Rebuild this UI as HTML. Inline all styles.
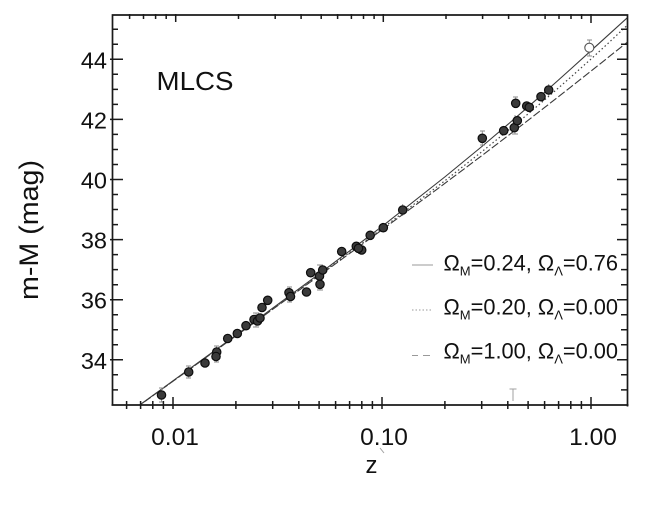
<!DOCTYPE html>
<html>
<head>
<meta charset="utf-8">
<style>
  html,body{margin:0;padding:0;background:#ffffff;}
  svg{display:block;}
  text{font-family:"Liberation Sans", Arial, Helvetica, sans-serif;fill:#111;}
</style>
</head>
<body>
<svg width="657" height="509" viewBox="0 0 657 509" xmlns="http://www.w3.org/2000/svg">
  <rect x="0" y="0" width="657" height="509" fill="#ffffff"/>
  <defs>
    <clipPath id="plotclip"><rect x="113" y="15" width="515" height="390"/></clipPath>
  </defs>

  <!-- model curves -->
  <g clip-path="url(#plotclip)" fill="none">
    <polyline stroke="#3a3a3a" stroke-width="1.1"
      points="110.08,426.28 140.63,404.26 173,380.86 235.92,335.18 319.08,273.97 382,226.40 444.92,176.88 481.72,146.62 507.83,124.48 528.08,106.92 544.63,92.34 558.63,79.88 570.75,69.00 591,50.70 607.55,35.68 627.8,17.33"/>
    <polyline stroke="#444" stroke-width="1.2" stroke-dasharray="1.5,2.5"
      points="110.08,426.40 140.63,404.43 173,381.10 235.92,335.66 319.08,275.10 382,228.56 444.92,180.73 481.72,151.80 507.83,130.68 528.08,113.90 544.63,99.88 558.63,87.80 570.75,77.17 591,59.02 607.55,43.82 627.8,24.79"/>
    <polyline stroke="#3a3a3a" stroke-width="1.1" stroke-dasharray="8,2.5"
      points="110.08,426.47 140.63,404.52 173,381.23 235.92,335.92 319.08,275.76 382,229.86 444.92,183.34 481.72,155.69 507.83,135.84 528.08,120.28 544.63,107.46 558.63,96.56 570.75,87.06 591,71.08 607.55,57.93 627.8,41.75"/>
  </g>

  <!-- error bars -->
  <g stroke="#8a8a8a" stroke-width="0.9" fill="none">
    <path d="M161.5,388v14M159,388h5M159,402h5"/>
    <path d="M188.7,366v12M186,366h5M186,378h5"/>
    <path d="M216.5,346v16M214,346h5M214,362h5"/>
    <path d="M256,313v14M253,313h6M253,327h6"/>
    <path d="M289.5,287v15M287,287h5M287,302h5"/>
    <path d="M320,265v25M317,265h6M317,290h6"/>
    <path d="M358.5,242v12"/>
    <path d="M402.7,204v12"/>
    <path d="M482.3,131v14M480,131h5M480,145h5"/>
    <path d="M515.7,97v10M513,97h5"/>
    <path d="M515,115v19M512,134h6"/>
    <path d="M548.7,84v12"/>
    <path d="M589.3,40v16M587,40h5M587,56h5"/>
  </g>

  <!-- data points -->
  <g fill="#3a3a3a" stroke="#0d0d0d" stroke-width="1.2">
    <circle cx="161.5" cy="395" r="4.2"/>
    <circle cx="188.7" cy="372" r="4.2"/>
    <circle cx="205" cy="363" r="4.2"/>
    <circle cx="216.7" cy="352" r="4.2"/>
    <circle cx="216" cy="356.5" r="4.2"/>
    <circle cx="227.7" cy="338.5" r="4.2"/>
    <circle cx="237.3" cy="333.5" r="4.2"/>
    <circle cx="246" cy="325.7" r="4.2"/>
    <circle cx="254" cy="319.5" r="4.2"/>
    <circle cx="257.5" cy="321" r="4.2"/>
    <circle cx="260" cy="318" r="4.2"/>
    <circle cx="262" cy="307.5" r="4.2"/>
    <circle cx="267.7" cy="300.3" r="4.2"/>
    <circle cx="289" cy="292.7" r="4.2"/>
    <circle cx="290.5" cy="296.5" r="4.2"/>
    <circle cx="306.5" cy="292" r="4.2"/>
    <circle cx="310.7" cy="272.7" r="4.2"/>
    <circle cx="320" cy="284.3" r="4.2"/>
    <circle cx="319.5" cy="276" r="4.2"/>
    <circle cx="322.7" cy="270" r="4.2"/>
    <circle cx="341.7" cy="251.5" r="4.2"/>
    <circle cx="356.3" cy="246.3" r="4.2"/>
    <circle cx="361.7" cy="250" r="4.2"/>
    <circle cx="358.5" cy="248.3" r="4.2"/>
    <circle cx="370.2" cy="235.3" r="4.2"/>
    <circle cx="383.3" cy="227.7" r="4.2"/>
    <circle cx="402.7" cy="210" r="4.2"/>
    <circle cx="482.3" cy="138.3" r="4.2"/>
    <circle cx="503.7" cy="130.7" r="4.2"/>
    <circle cx="514.3" cy="127.7" r="4.2"/>
    <circle cx="517.3" cy="120.7" r="4.2"/>
    <circle cx="515.7" cy="103.3" r="4.2"/>
    <circle cx="526.7" cy="106" r="4.2"/>
    <circle cx="529.3" cy="107.3" r="4.2"/>
    <circle cx="541" cy="96.7" r="4.2"/>
    <circle cx="548.7" cy="90" r="4.2"/>
  </g>
  <circle cx="589.3" cy="47.7" r="4.5" fill="#ffffff" stroke="#555" stroke-width="1.1"/>

  <!-- axes frame -->
  <g stroke="#1a1a1a" stroke-width="1.7" fill="none">
    <path d="M112.5,405 V15 H627.5 V406.5"/>
    <path d="M111.5,405 H628.5"/>
  </g>

  <!-- left ticks -->
  <g stroke="#1a1a1a" stroke-width="1.5">
    <path d="M110,59.3h13M110,119.4h13M110,179.5h13M110,239.6h13M110,299.7h13M110,359.8h13"/>
    <path d="M112,29.25h6M112,44.3h6M112,74.3h6M112,89.35h6M112,104.4h6M112,134.4h6M112,149.45h6M112,164.5h6M112,194.5h6M112,209.55h6M112,224.6h6M112,254.6h6M112,269.65h6M112,284.7h6M112,314.7h6M112,329.75h6M112,344.8h6M112,374.8h6M112,389.85h6"/>
  </g>
  <!-- right ticks -->
  <g stroke="#1a1a1a" stroke-width="1.5">
    <path d="M617,59.3h11M617,119.4h11M617,179.5h11M617,239.6h11M617,299.7h11M617,359.8h11"/>
    <path d="M621,29.25h7M621,44.3h7M621,74.3h7M621,89.35h7M621,104.4h7M621,134.4h7M621,149.45h7M621,164.5h7M621,194.5h7M621,209.55h7M621,224.6h7M621,254.6h7M621,269.65h7M621,284.7h7M621,314.7h7M621,329.75h7M621,344.8h7M621,374.8h7M621,389.85h7"/>
  </g>
  <!-- bottom ticks -->
  <g stroke="#1a1a1a" stroke-width="1.5">
    <path d="M173,397v12M382,397v12M591,397v12"/>
    <path d="M126.6,401v8M140.6,401v8M152.8,401v8M163.4,401v8M235.9,401v8M272.7,401v8M298.8,401v8M319.1,401v8M335.6,401v8M349.6,401v8M361.8,401v8M372.4,401v8M444.9,401v8M481.7,401v8M507.8,401v8M528.1,401v8M544.6,401v8M558.6,401v8M570.8,401v8M581.4,401v8"/>
  </g>
  <!-- top ticks -->
  <g stroke="#1a1a1a" stroke-width="1.5">
    <path d="M175.7,14v8M383.3,14v8M591,14v9"/>
    <path d="M129.6,14v5M143.5,14v5M155.6,14v5M166.2,14v5M238.5,14v5M275.2,14v5M301.1,14v5M321.2,14v5M337.6,14v5M351.4,14v5M363.5,14v5M374.1,14v5M446,14v5M482.6,14v5M508.6,14v5M528.7,14v5M545.1,14v5M559,14v5M571,14v5M581.6,14v5"/>
  </g>

  <!-- stray scan marks -->
  <g stroke="#a0a0a0" stroke-width="1" fill="none">
    <path d="M513,389v12M509.5,389h7"/>
    <path d="M380,448l4,5"/>
  </g>

  <!-- y tick labels -->
  <g font-size="23.5" text-anchor="end">
    <text x="107" y="68.5">44</text>
    <text x="107" y="128.5">42</text>
    <text x="107" y="188.5">40</text>
    <text x="107" y="248.5">38</text>
    <text x="107" y="308.5">36</text>
    <text x="107" y="369">34</text>
  </g>

  <!-- x tick labels -->
  <g font-size="24.5" text-anchor="middle">
    <text x="175" y="445">0.01</text>
    <text x="384" y="445">0.10</text>
    <text x="593" y="445">1.00</text>
  </g>

  <!-- axis titles -->
  <text x="371.5" y="473" font-size="24" text-anchor="middle">z</text>
  <text transform="translate(38,230) rotate(-90)" font-size="27" text-anchor="middle" textLength="140" lengthAdjust="spacingAndGlyphs">m-M (mag)</text>

  <!-- panel label -->
  <text x="156.5" y="90" font-size="25.5" textLength="77" lengthAdjust="spacingAndGlyphs">MLCS</text>

  <!-- legend -->
  <g stroke="#999" stroke-width="1.1" fill="none">
    <path d="M412,265h21"/>
    <path d="M412,310h21" stroke-dasharray="1.5,2"/>
    <path d="M412,355.5h6M423,355.5h7"/>
  </g>
  <g font-size="21.8">
    <text x="443.5" y="270.7">Ω<tspan font-size="13" dy="5">M</tspan><tspan dy="-5">=0.24, Ω</tspan><tspan font-size="13" dy="5">Λ</tspan><tspan dy="-5">=0.76</tspan></text>
    <text x="443.5" y="314.5">Ω<tspan font-size="13" dy="5">M</tspan><tspan dy="-5">=0.20, Ω</tspan><tspan font-size="13" dy="5">Λ</tspan><tspan dy="-5">=0.00</tspan></text>
    <text x="443.5" y="358.7">Ω<tspan font-size="13" dy="5">M</tspan><tspan dy="-5">=1.00, Ω</tspan><tspan font-size="13" dy="5">Λ</tspan><tspan dy="-5">=0.00</tspan></text>
  </g>
</svg>
</body>
</html>
